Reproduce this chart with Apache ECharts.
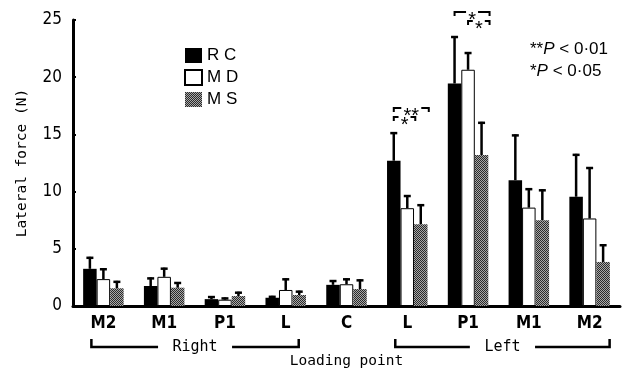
<!DOCTYPE html>
<html>
<head>
<meta charset="utf-8">
<script src="https://cdn.jsdelivr.net/npm/echarts@6/dist/echarts.min.js"></script>
<style>html,body{margin:0;padding:0;background:#fff;}#c{width:622px;height:373px;}</style>
</head>
<body>
<div id="c"></div>
<script>
// ---- data ----
const categories = ['M2', 'M1', 'P1', 'L', 'C', 'L', 'P1', 'M1', 'M2'];
const seriesNames = ['RC', 'MD', 'MS'];
const rcValues = [3.25, 1.75, 0.6, 0.72, 1.85, 12.7, 19.45, 11.0, 9.55];
const rcErrors = [1.05, 0.75, 0.27, 0.17, 0.42, 2.5, 4.15, 4.0, 3.75];
const mdValues = [2.35, 2.55, 0.55, 1.4, 1.9, 8.55, 20.65, 8.6, 7.65];
const mdErrors = [0.95, 0.8, 0.2, 1.02, 0.52, 1.15, 1.55, 1.7, 4.5];
const msValues = [1.55, 1.6, 0.87, 0.96, 1.48, 7.15, 13.2, 7.5, 3.85];
const msErrors = [0.65, 0.5, 0.38, 0.38, 0.85, 1.75, 2.9, 2.7, 1.55];
const yTicks = [0, 5, 10, 15, 20, 25];
// significance brackets: category index, from series, to series, row (0 lower, 1 upper), label
const sigCategory = [5, 5, 6, 6];
const sigFrom = [0, 0, 0, 1];
const sigTo = [2, 1, 2, 2];
const sigRow = [1, 0, 1, 0];
const sigLabel = ['**', '*', '*', '*'];
// side groups under the x axis
const sideLabels = ['Right', 'Left'];
const sideFrom = [0, 5];
const sideTo = [3, 8];

const BAR_W = 13.5;
const chart = echarts.init(document.getElementById('c'), null, {renderer: 'canvas'});

// dither pattern for MS
const pat = document.createElement('canvas');
pat.width = 2; pat.height = 2;
const pctx = pat.getContext('2d');
pctx.fillStyle = '#a8a8a8'; pctx.fillRect(0, 0, 2, 2);
pctx.fillStyle = '#2a2a2a'; pctx.fillRect(0, 0, 1, 1); pctx.fillRect(1, 1, 1, 1);

const values = [rcValues, mdValues, msValues];
const errors = [rcErrors, mdErrors, msErrors];
const fills = ['#000', '#fff', {image: pat, repeat: 'repeat'}];

function errRender(k) {
  return function (params, api) {
    const c = api.value(0), v = api.value(1), e = api.value(2);
    const p0 = api.coord([c, v]);
    const p1 = api.coord([c, v + e]);
    const x = p0[0] + (k - 1) * BAR_W;
    return {
      type: 'group',
      children: [
        {type: 'line', shape: {x1: x, y1: p0[1], x2: x, y2: p1[1]}, style: {stroke: '#000', lineWidth: 2.5}},
        {type: 'line', shape: {x1: x - 3.5, y1: p1[1] + 1, x2: x + 3.5, y2: p1[1] + 1}, style: {stroke: '#000', lineWidth: 2.5}}
      ]
    };
  };
}

const series = [];
seriesNames.forEach(function (name, k) {
  series.push({
    name: name, type: 'bar', data: values[k], barWidth: BAR_W, barGap: '0%',
    itemStyle: {color: fills[k], borderColor: '#000', borderWidth: k === 1 ? 1 : 0},
    z: 2
  });
});
seriesNames.forEach(function (name, k) {
  series.push({
    type: 'custom', name: name + ' err',
    data: categories.map(function (_, i) { return [i, values[k][i], errors[k][i]]; }),
    encode: {x: 0, y: 1},
    renderItem: errRender(k), z: 3, silent: true
  });
});

const monoFont = '"DejaVu Sans Mono", monospace';
const narrowFont = '"Liberation Sans Narrow", "DejaVu Sans Condensed", "Liberation Sans", sans-serif';

chart.setOption({
  animation: false,
  backgroundColor: '#fff',
  grid: {left: 73, right: 2, top: 20, bottom: 67, outerBoundsMode: 'none', containLabel: false},
  legend: {
    data: seriesNames, orient: 'vertical', left: 184, top: 47, padding: 0,
    itemWidth: 17, itemHeight: 15, itemGap: 5, icon: 'rect',
    formatter: function (n) { return n.split('').join(' '); },
    textStyle: {fontFamily: '"Liberation Sans", Arial, sans-serif', fontSize: 17, color: '#000', padding: [0, 0, 0, 0]}
  },
  xAxis: {
    type: 'category', data: categories,
    name: 'Loading point', nameLocation: 'middle', nameGap: 48,
    nameTextStyle: {fontFamily: monoFont, fontSize: 14.5, color: '#000'},
    axisLine: {lineStyle: {color: '#000', width: 3}},
    axisTick: {inside: true, length: 3, lineStyle: {color: '#000', width: 2}},
    axisLabel: {margin: 9, fontFamily: narrowFont, fontWeight: 'bold', fontSize: 17, color: '#000'}
  },
  yAxis: {
    type: 'value', min: yTicks[0], max: yTicks[yTicks.length - 1], interval: yTicks[1] - yTicks[0],
    name: 'Lateral force (N)', nameLocation: 'middle', nameGap: 43,
    nameTextStyle: {fontFamily: monoFont, fontSize: 14.5, color: '#000'},
    axisLine: {show: true, lineStyle: {color: '#000', width: 3}},
    axisTick: {show: true, inside: true, length: 3, lineStyle: {color: '#000', width: 2}},
    splitLine: {show: false},
    axisLabel: {margin: 11, fontFamily: narrowFont, fontSize: 17, color: '#000'}
  },
  series: series
});

// annotations positioned via the axes
const graphics = [];
function px(cat, val) { return chart.convertToPixel({xAxisIndex: 0, yAxisIndex: 0}, [cat, val]); }

for (let i = 0; i < sigCategory.length; i++) {
  const c = sigCategory[i];
  let maxTop = 0;
  for (let k = 0; k < 3; k++) maxTop = Math.max(maxTop, values[k][c] + errors[k][c]);
  const ctr = px(c, maxTop);
  const y = ctr[1] - (sigRow[i] === 1 ? 24 : 15);
  const x1 = ctr[0] + (sigFrom[i] - 1) * BAR_W;
  const x2 = ctr[0] + (sigTo[i] - 1) * BAR_W + 8;
  const mid = (x1 + x2) / 2;
  const half = sigLabel[i].length * 4 + 2;
  graphics.push({type: 'polyline', shape: {points: [[x1, y + 4], [x1, y], [mid - half, y]]}, style: {stroke: '#000', lineWidth: 2, fill: null}});
  graphics.push({type: 'polyline', shape: {points: [[mid + half, y], [x2, y], [x2, y + 4]]}, style: {stroke: '#000', lineWidth: 2, fill: null}});
  graphics.push({type: 'text', x: mid, y: y + 8, style: {text: sigLabel[i], fontSize: 20, fontFamily: '"Liberation Sans", sans-serif', fill: '#000', align: 'center', verticalAlign: 'middle'}});
}

for (let i = 0; i < sideLabels.length; i++) {
  const a = px(sideFrom[i], 0)[0] - 12;
  const b = px(sideTo[i], 0)[0] + (i === 0 ? 13 : 20);
  const m = (a + b) / 2;
  const half = sideLabels[i].length * 4.4 + 15;
  const yl = 347, yt = 339;
  graphics.push({type: 'polyline', shape: {points: [[a, yt], [a, yl], [m - half, yl]]}, style: {stroke: '#000', lineWidth: 2.5, fill: null}});
  graphics.push({type: 'polyline', shape: {points: [[m + half, yl], [b, yl], [b, yt]]}, style: {stroke: '#000', lineWidth: 2.5, fill: null}});
  graphics.push({type: 'text', x: m, y: yl, style: {text: sideLabels[i], fontSize: 15, fontFamily: monoFont, fill: '#000', align: 'center', verticalAlign: 'middle'}});
}

graphics.push({type: 'text', left: 530, top: 41, style: {
  text: '{a|**}{p|P}{a| < 0·01}', fill: '#000',
  rich: {a: {fontSize: 17, fontFamily: '"Liberation Sans", sans-serif'}, p: {fontSize: 17, fontStyle: 'italic', fontFamily: '"Liberation Sans", sans-serif'}}
}});
graphics.push({type: 'text', left: 530, top: 63, style: {
  text: '{a|*}{p|P}{a| < 0·05}', fill: '#000',
  rich: {a: {fontSize: 17, fontFamily: '"Liberation Sans", sans-serif'}, p: {fontSize: 17, fontStyle: 'italic', fontFamily: '"Liberation Sans", sans-serif'}}
}});

chart.setOption({graphic: graphics});
</script>
</body>
</html>
